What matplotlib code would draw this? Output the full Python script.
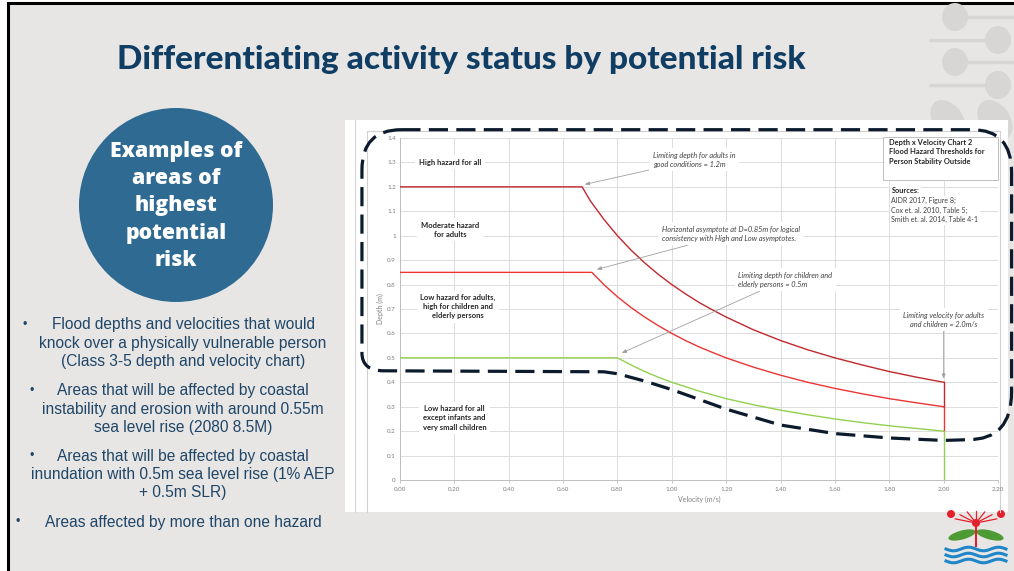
import matplotlib
matplotlib.use("Agg")
import matplotlib.pyplot as plt
import numpy as np
from matplotlib.patches import Rectangle, Circle, Ellipse, PathPatch
from matplotlib.path import Path

# ---------------- data ----------------
title = "Differentiating activity status by potential risk"
circle_text = "Examples of\nareas of\nhighest\npotential\nrisk"
bullets = [
    ["Flood depths and velocities that would",
     "knock over a physically vulnerable person",
     "(Class 3-5 depth and velocity chart)"],
    ["Areas that will be affected by coastal",
     "instability and erosion with around 0.55m",
     "sea level rise (2080 8.5M)"],
    ["Areas that will be affected by coastal",
     "inundation with 0.5m sea level rise (1% AEP",
     "+ 0.5m SLR)"],
    ["Areas affected by more than one hazard"],
]

# high hazard threshold (adults, good conditions)
high_v = [0.00, 0.67, 0.70, 0.75, 0.80, 0.85, 0.90, 0.95, 1.00, 1.05, 1.10, 1.15, 1.20, 1.30, 1.40,
          1.50, 1.60, 1.70, 1.80, 1.90, 2.00]
high_d = [1.20, 1.20, 1.143, 1.067, 1.00, 0.941, 0.889, 0.842, 0.80, 0.762, 0.727, 0.696, 0.667, 0.615,
          0.571, 0.533, 0.50, 0.471, 0.444, 0.421, 0.40]
# moderate / low boundary (asymptote 0.85)
mid_v = [0.00, 0.706, 0.75, 0.80, 0.85, 0.90, 0.95, 1.00, 1.05, 1.10, 1.15, 1.20, 1.30, 1.40, 1.50,
         1.60, 1.70, 1.80, 1.90, 2.00]
mid_d = [0.85, 0.85, 0.80, 0.75, 0.706, 0.667, 0.632, 0.60, 0.571, 0.545, 0.522, 0.50, 0.462, 0.429,
         0.40, 0.375, 0.353, 0.333, 0.316, 0.30]
# children and elderly
low_v = [0.00, 0.80, 0.85, 0.90, 0.95, 1.00, 1.10, 1.20, 1.30, 1.40, 1.50, 1.60, 1.70, 1.80, 1.90, 2.00]
low_d = [0.50, 0.50, 0.471, 0.444, 0.421, 0.40, 0.364, 0.333, 0.308, 0.286, 0.267, 0.25, 0.235, 0.222,
         0.211, 0.20]
# limiting velocity line at 2.0 m/s
vlim = 2.0

x_ticks = [0.0, 0.2, 0.4, 0.6, 0.8, 1.0, 1.2, 1.4, 1.6, 1.8, 2.0, 2.2]
y_ticks = [0.0, 0.1, 0.2, 0.3, 0.4, 0.5, 0.6, 0.7, 0.8, 0.9, 1.0, 1.1, 1.2, 1.3, 1.4]

# hand-drawn dashed outline (velocity, depth)
outline_v = [0.005, 2.105, 2.25, 2.25, 2.25, 2.25, 2.09, 2.00, 1.80, 1.60, 1.40, 1.20, 1.00, 0.90, 0.80, 0.75,
             -0.06, -0.14, -0.14, -0.14, -0.14, 0.005]
outline_d = [1.434, 1.434, 1.434, 1.26, 0.36, 0.165, 0.165, 0.162, 0.172, 0.19, 0.225, 0.29, 0.37, 0.405, 0.435, 0.443,
             0.447, 0.447, 0.52, 1.27, 1.434, 1.434]
outline_codes = [Path.MOVETO, Path.LINETO, Path.CURVE3, Path.CURVE3, Path.LINETO, Path.CURVE3, Path.CURVE3,
                 Path.LINETO, Path.LINETO, Path.LINETO, Path.LINETO, Path.LINETO, Path.LINETO, Path.LINETO,
                 Path.LINETO, Path.LINETO, Path.LINETO, Path.CURVE3, Path.CURVE3, Path.LINETO, Path.CURVE3,
                 Path.CURVE3]

# ---------------- figure ----------------
W, H = 1014, 571
fig = plt.figure(figsize=(W / 100, H / 100), dpi=100)
fig.patch.set_facecolor("white")

bg = fig.add_axes([0, 0, 1, 1], zorder=0)
bg.set_xlim(0, W)
bg.set_ylim(H, 0)
bg.axis("off")

# slide
bg.add_patch(Rectangle((8, 3), W + 20, H + 20, facecolor="#e8e6e4", edgecolor="black", lw=2.2))

# top-right decoration
deco = "#d8d6d4"
for cx, cy, side in [(955, 17, 1), (998, 40, -1), (955, 62, 1), (998, 85, -1)]:
    bg.add_patch(Ellipse((cx, cy), 26, 28, facecolor=deco, edgecolor="none"))
    if side == 1:
        bg.plot([cx, 1014], [cy, cy], color=deco, lw=2.5, solid_capstyle="butt")
    else:
        bg.plot([929, cx], [cy, cy], color=deco, lw=2.5, solid_capstyle="butt")
bg.add_patch(Ellipse((948, 120), 30, 44, angle=-35, facecolor=deco, edgecolor="none"))
bg.add_patch(Ellipse((995, 120), 30, 44, angle=-35, facecolor=deco, edgecolor="none"))

# title
bg.text(117, 60, title, fontsize=24, fontweight=900, color="#0f3d63",
        family=["Lato", "DejaVu Sans"], ha="left", va="center")

# circle
bg.add_patch(Circle((176, 205), 97, facecolor="#2e6a92", edgecolor="none"))
bg.text(176, 206, circle_text, fontsize=15.3, fontweight=800, color="white",
        family=["Open Sans", "DejaVu Sans"], ha="center", va="center", linespacing=1.38)

# bullets
bcol = "#1f4668"
bullet_x = [25, 32, 32, 18]
line_y0 = [325, 391, 456, 522]
for items, bx, y0 in zip(bullets, bullet_x, line_y0):
    bg.text(bx, y0, "\u2022", fontsize=9, color=bcol, ha="center", va="center",
            family=["Liberation Sans", "DejaVu Sans"])
    for k, line in enumerate(items):
        bg.text(183, y0 + 18.3 * k, line, fontsize=11.2, color=bcol, ha="center", va="center",
                family=["Liberation Sans", "DejaVu Sans"])

# chart panel
bg.add_patch(Rectangle((345, 120), 663, 392, facecolor="white", edgecolor="none"))
bg.plot([355, 355], [120, 512], color="#d4d4d4", lw=0.8)
bg.plot([367, 367, 1000, 1000], [512, 131, 131, 512], color="#d0d0d0", lw=0.8)

# logo
red, green, blue = "#e4202b", "#4e9a35", "#1f86c8"
for ang in np.linspace(20, 160, 7):
    bg.plot([976, 976 + 22 * np.cos(np.radians(ang))], [523, 523 - 12 * np.sin(np.radians(ang))],
            color=red, lw=0.9)
for (cx, cy, r) in [(951, 514, 4), (1001, 514, 4), (976, 523, 4)]:
    bg.add_patch(Circle((cx, cy), r, facecolor=red, edgecolor="none"))
bg.plot([976, 976], [523, 546], color=red, lw=1.5)
bg.add_patch(Ellipse((962, 535), 28, 9, angle=-15, facecolor=green, edgecolor="none"))
bg.add_patch(Ellipse((990, 535), 28, 9, angle=15, facecolor=green, edgecolor="none"))
xs = np.linspace(946, 1006, 60)
for yy in [549, 555, 561]:
    bg.plot(xs, yy + 1.8 * np.sin((xs - 946) / 60 * 4 * np.pi), color=blue, lw=2.2)

# ---------------- chart ----------------
cf = ["Lato", "Open Sans", "DejaVu Sans"]
ax = fig.add_axes([400 / W, 1 - 480 / H, 598 / W, 342 / H], zorder=2)
ax.set_facecolor("none")
ax.set_xlim(0, 2.2)
ax.set_ylim(0, 1.4)
ax.set_xticks(x_ticks)
ax.set_yticks(y_ticks)
ax.set_xticklabels([f"{t:.2f}" for t in x_ticks], fontsize=4.5, color="#7f7f7f", family=cf)
ax.set_yticklabels([f"{t:g}" for t in y_ticks], fontsize=4.5, color="#7f7f7f", family=cf)
ax.tick_params(axis="both", length=2, width=0.6, color="#bfbfbf", pad=3)
ax.tick_params(axis="y", length=0)
ax.grid(True, color="#dcdcdc", lw=0.7)
ax.set_axisbelow(True)
for s in ["top", "right"]:
    ax.spines[s].set_visible(False)
for s in ["left", "bottom"]:
    ax.spines[s].set_color("#bfbfbf")
    ax.spines[s].set_linewidth(0.7)
ax.set_xlabel("Velocity (m/s)", fontsize=5, color="#7f7f7f", family=cf, labelpad=3)
ax.set_ylabel("Depth (m)", fontsize=5, color="#7f7f7f", family=cf, labelpad=2)

ax.plot(high_v, high_d, color="#c0282d", lw=1.0, zorder=3)
ax.plot(mid_v, mid_d, color="#ec3434", lw=1.0, zorder=3)
ax.plot(low_v, low_d, color="#92d050", lw=1.0, zorder=3)
ax.plot([vlim, vlim], [high_d[-1], mid_d[-1]], color="#c0282d", lw=1.0, zorder=3)
ax.plot([vlim, vlim], [mid_d[-1], low_d[-1]], color="#ec3434", lw=1.0, zorder=3)
ax.plot([vlim, vlim], [low_d[-1], 0], color="#92d050", lw=1.0, zorder=3)

wb = dict(facecolor="white", edgecolor="none", pad=2.5)
bold_labels = [
    (0.184, 1.30, "High hazard for all"),
    (0.184, 1.025, "Moderate hazard\nfor adults"),
    (0.213, 0.709, "Low hazard for adults,\nhigh for children and\nelderly persons"),
    (0.20, 0.254, "Low hazard for all\nexcept infants and\nvery small children"),
]
for x, y, t in bold_labels:
    ax.text(x, y, t, fontsize=5.5, fontweight="bold", color="#262626", family=cf,
            ha="center", va="center", linespacing=1.35, bbox=wb, zorder=4)

ital = dict(fontsize=5.3, style="italic", color="#404040", family=cf, linespacing=1.35, zorder=4)
arrow = dict(arrowstyle="-|>,head_length=0.5,head_width=0.2", color="#a0a0a0", lw=0.6,
             shrinkA=0, shrinkB=0)
ax.annotate("Limiting depth for adults in\ngood conditions = 1.2m", xy=(0.68, 1.21), xytext=(0.93, 1.31),
            ha="left", va="center", arrowprops=arrow, bbox=wb, **ital)
ax.annotate("Horizontal asymptote at D=0.85m for logical\nconsistency with High and Low asymptotes.",
            xy=(0.724, 0.862), xytext=(0.963, 1.008), ha="left", va="center", arrowprops=arrow, bbox=wb, **ital)
ax.annotate("Limiting depth for children and\nelderly persons = 0.5m", xy=(0.816, 0.52), xytext=(1.245, 0.82),
            ha="left", va="center", arrowprops=arrow, bbox=wb, **ital)
ax.annotate("Limiting velocity for adults\nand children = 2.0m/s", xy=(2.0, 0.415), xytext=(2.0, 0.656),
            ha="center", va="center", arrowprops=arrow, bbox=wb, **ital)

# info box
ax.add_patch(Rectangle((1.776, 1.23), 0.423, 0.176, facecolor="white", edgecolor="#bfbfbf", lw=0.7,
                       zorder=4, clip_on=False))
ax.text(1.798, 1.343, "Depth x Velocity Chart 2\nFlood Hazard Thresholds for\nPerson Stability Outside",
        fontsize=5.4, fontweight="bold", color="#262626", family=cf, ha="left", va="center",
        linespacing=1.38, zorder=5)
ax.text(1.808, 1.184, "Sources:", fontsize=5.3, fontweight="bold", color="#262626", family=cf,
        ha="left", va="center", zorder=4, bbox=dict(facecolor="white", edgecolor="none", pad=1))
ax.text(1.808, 1.104, "AIDR 2017, Figure 8;\nCox et. al. 2010, Table 5;\nSmith et. al. 2014, Table 4-1",
        fontsize=5.0, color="#404040", family=cf, ha="left", va="center", linespacing=1.4, zorder=4,
        bbox=dict(facecolor="white", edgecolor="none", pad=1))

outline = Path(np.column_stack([outline_v, outline_d]), outline_codes)
ax.add_patch(PathPatch(outline, facecolor="none", edgecolor="#0b1a2c", lw=2.3,
                       linestyle=(0, (6, 2.6)), capstyle="butt", clip_on=False, zorder=5))

fig.savefig("out.png", dpi=100)
